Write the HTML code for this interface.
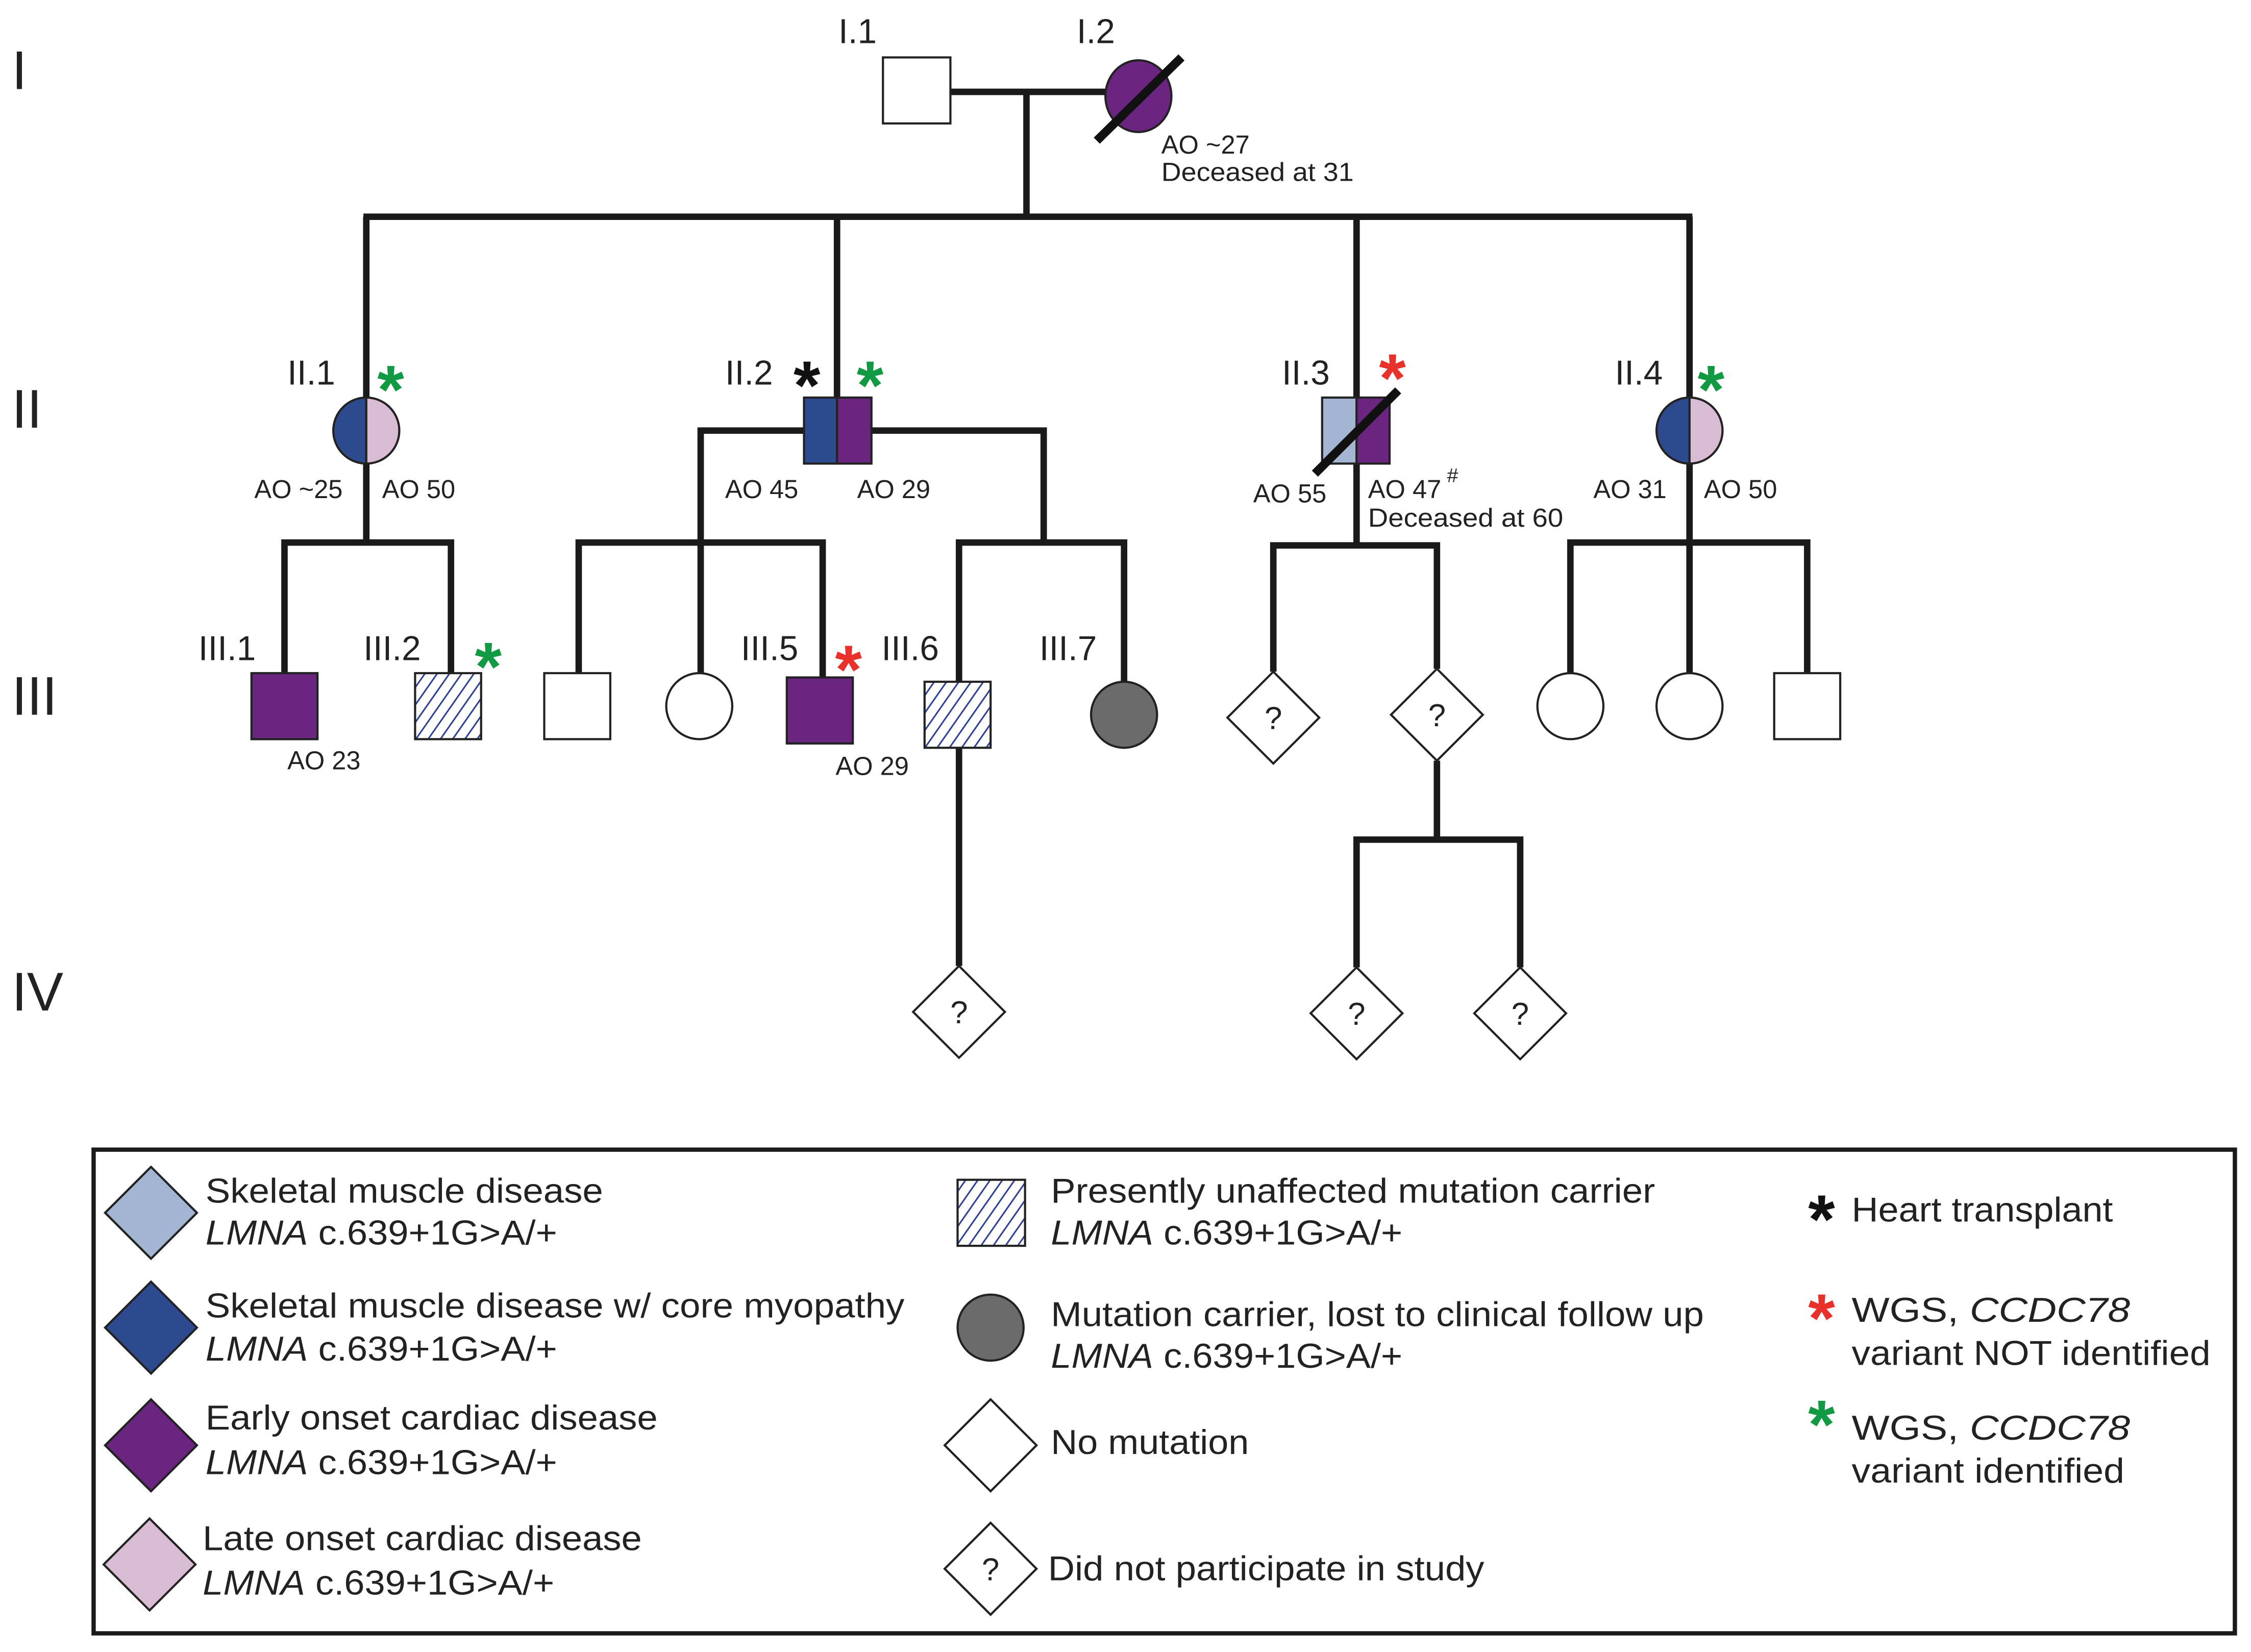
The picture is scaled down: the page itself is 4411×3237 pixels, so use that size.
<!DOCTYPE html>
<html><head><meta charset="utf-8"><style>html,body{margin:0;padding:0;background:#fff}svg{display:block}</style></head>
<body>
<svg xmlns="http://www.w3.org/2000/svg" width="4411" height="3237" viewBox="0 0 1568 1151" font-family="Liberation Sans, sans-serif">
<defs>
<pattern id="h" patternUnits="userSpaceOnUse" width="7" height="7" patternTransform="rotate(35)">
<rect width="7" height="7" fill="#fff"/><line x1="0" y1="0" x2="0" y2="7" stroke="#2e3f94" stroke-width="2.2"/>
</pattern>
</defs>
<rect width="1568" height="1151" fill="#fff"/>
<g fill="#222" font-size="38">
<text x="8" y="62">I</text><text x="8" y="298">II</text><text x="8" y="498">III</text><text x="8" y="704">IV</text>
</g>
<g stroke="#1a1a1a" stroke-width="4.5" fill="none">
<line x1="662" y1="64" x2="770" y2="64"/>
<line x1="715" y1="64" x2="715" y2="151"/>
<line x1="253" y1="151" x2="1179" y2="151"/>
<line x1="255" y1="151" x2="255" y2="278"/>
<line x1="583" y1="151" x2="583" y2="278"/>
<line x1="945" y1="151" x2="945" y2="278"/>
<line x1="1177" y1="151" x2="1177" y2="278"/>
<line x1="255" y1="322" x2="255" y2="378"/>
<polyline points="198,469 198,378 314,378 314,469"/>
<polyline points="560,300 488,300 488,469"/>
<polyline points="403,469 403,378 573,378 573,472"/>
<polyline points="607,300 727,300 727,378"/>
<polyline points="668,475 668,378 783,378 783,476"/>
<line x1="668" y1="521" x2="668" y2="673"/>
<line x1="945" y1="323" x2="945" y2="380"/>
<polyline points="887,468 887,380 1001,380 1001,466"/>
<line x1="1001" y1="530" x2="1001" y2="585"/>
<polyline points="945,674 945,585 1059,585 1059,674"/>
<line x1="1177" y1="322" x2="1177" y2="470"/>
<polyline points="1094,470 1094,378 1259,378 1259,469"/>
</g>
<g stroke="#222" stroke-width="1.5">
<rect x="615" y="40" width="47" height="46" fill="#fff"/>
<ellipse cx="793" cy="67" rx="23" ry="25" fill="#6a2580"/>
<path d="M255,277 A23,23 0 0 0 255,323 Z" fill="#2e4a8f"/>
<path d="M255,277 A23,23 0 0 1 255,323 Z" fill="#d9bcd3"/>
<rect x="560" y="277" width="23" height="46" fill="#2e4a8f"/>
<rect x="583" y="277" width="24" height="46" fill="#6a2580"/>
<rect x="921" y="277" width="24" height="46" fill="#a3b5d3"/>
<rect x="945" y="277" width="23" height="46" fill="#6a2580"/>
<path d="M1177,277 A23,23 0 0 0 1177,323 Z" fill="#2e4a8f"/>
<path d="M1177,277 A23,23 0 0 1 1177,323 Z" fill="#d9bcd3"/>
<rect x="175" y="469" width="46" height="46" fill="#6a2580"/>
<rect x="289" y="469" width="46" height="46" fill="url(#h)"/>
<rect x="379" y="469" width="46" height="46" fill="#fff"/>
<circle cx="487" cy="492" r="23" fill="#fff"/>
<rect x="548" y="472" width="46" height="46" fill="#6a2580"/>
<rect x="644" y="475" width="46" height="46" fill="url(#h)"/>
<circle cx="783" cy="498" r="23" fill="#6b6b6b"/>
<path d="M887,468 L919,500 L887,532 L855,500 Z" fill="#fff"/>
<path d="M1001,466 L1033,498 L1001,530 L969,498 Z" fill="#fff"/>
<circle cx="1094" cy="492" r="23" fill="#fff"/>
<circle cx="1177" cy="492" r="23" fill="#fff"/>
<rect x="1236" y="469" width="46" height="46" fill="#fff"/>
<path d="M668,673 L700,705 L668,737 L636,705 Z" fill="#fff"/>
<path d="M945,674 L977,706 L945,738 L913,706 Z" fill="#fff"/>
<path d="M1059,674 L1091,706 L1059,738 L1027,706 Z" fill="#fff"/>
</g>
<g stroke="#111" stroke-width="6">
<line x1="764" y1="98" x2="823" y2="40"/>
<line x1="916" y1="330" x2="974" y2="272"/>
</g>
<g fill="#222" font-size="22" text-anchor="middle">
<text x="887" y="508">?</text><text x="1001" y="506">?</text>
<text x="668" y="713">?</text><text x="945" y="714">?</text><text x="1059" y="714">?</text>
</g>
<g fill="#222" font-size="24">
<text x="584" y="30">I.1</text><text x="750" y="30">I.2</text>
<text x="200" y="268">II.1</text><text x="505" y="268">II.2</text><text x="893" y="268">II.3</text><text x="1125" y="268">II.4</text>
<text x="138" y="460">III.1</text><text x="253" y="460">III.2</text><text x="516" y="460">III.5</text><text x="614" y="460">III.6</text><text x="724" y="460">III.7</text>
</g>
<g fill="#222" font-size="18">
<text x="809" y="107">AO ~27</text><text x="809" y="126" textLength="134" lengthAdjust="spacingAndGlyphs">Deceased at 31</text>
<text x="177" y="347">AO ~25</text><text x="266" y="347">AO 50</text>
<text x="505" y="347">AO 45</text><text x="597" y="347">AO 29</text>
<text x="873" y="350">AO 55</text><text x="953" y="347">AO 47</text><text x="1008" y="336" font-size="14">#</text><text x="953" y="367" textLength="136" lengthAdjust="spacingAndGlyphs">Deceased at 60</text>
<text x="1110" y="347">AO 31</text><text x="1187" y="347">AO 50</text>
<text x="200" y="536">AO 23</text><text x="582" y="540">AO 29</text>
</g>
<g font-size="48" font-weight="bold" text-anchor="middle">
<text x="272" y="288" fill="#119944">*</text>
<text x="562" y="285" fill="#111">*</text>
<text x="606" y="285" fill="#119944">*</text>
<text x="970" y="280" fill="#e8312a">*</text>
<text x="1192" y="288" fill="#119944">*</text>
<text x="340" y="481" fill="#119944">*</text>
<text x="591" y="483" fill="#e8312a">*</text>
</g>
<rect x="65" y="801" width="1492" height="337" fill="none" stroke="#1a1a1a" stroke-width="3"/>
<g stroke="#222" stroke-width="1.5">
<path d="M105,813 L137,845 L105,877 L73,845 Z" fill="#a3b5d3"/>
<path d="M105,893 L137,925 L105,957 L73,925 Z" fill="#2e4a8f"/>
<path d="M105,975 L137,1007 L105,1039 L73,1007 Z" fill="#6a2580"/>
<path d="M104,1058 L136,1090 L104,1122 L72,1090 Z" fill="#d9bcd3"/>
<rect x="667" y="822" width="47" height="46" fill="url(#h)"/>
<circle cx="690" cy="925" r="23" fill="#6b6b6b"/>
<path d="M690,975 L722,1007 L690,1039 L658,1007 Z" fill="#fff"/>
<path d="M690,1061 L722,1093 L690,1125 L658,1093 Z" fill="#fff"/>
</g>
<text x="690" y="1101" font-size="22" text-anchor="middle" fill="#222">?</text>
<g fill="#222" font-size="24" lengthAdjust="spacingAndGlyphs">
<text x="143" y="838" textLength="277" lengthAdjust="spacingAndGlyphs">Skeletal muscle disease</text>
<text x="143" y="867" textLength="245" lengthAdjust="spacingAndGlyphs"><tspan font-style="italic">LMNA</tspan> c.639+1G&gt;A/+</text>
<text x="143" y="918" textLength="487" lengthAdjust="spacingAndGlyphs">Skeletal muscle disease w/ core myopathy</text>
<text x="143" y="948" textLength="245" lengthAdjust="spacingAndGlyphs"><tspan font-style="italic">LMNA</tspan> c.639+1G&gt;A/+</text>
<text x="143" y="996" textLength="315" lengthAdjust="spacingAndGlyphs">Early onset cardiac disease</text>
<text x="143" y="1027" textLength="245" lengthAdjust="spacingAndGlyphs"><tspan font-style="italic">LMNA</tspan> c.639+1G&gt;A/+</text>
<text x="141" y="1080" textLength="306" lengthAdjust="spacingAndGlyphs">Late onset cardiac disease</text>
<text x="141" y="1111" textLength="245" lengthAdjust="spacingAndGlyphs"><tspan font-style="italic">LMNA</tspan> c.639+1G&gt;A/+</text>
<text x="732" y="838" textLength="421" lengthAdjust="spacingAndGlyphs">Presently unaffected mutation carrier</text>
<text x="732" y="867" textLength="245" lengthAdjust="spacingAndGlyphs"><tspan font-style="italic">LMNA</tspan> c.639+1G&gt;A/+</text>
<text x="732" y="924" textLength="455" lengthAdjust="spacingAndGlyphs">Mutation carrier, lost to clinical follow up</text>
<text x="732" y="953" textLength="245" lengthAdjust="spacingAndGlyphs"><tspan font-style="italic">LMNA</tspan> c.639+1G&gt;A/+</text>
<text x="732" y="1013" textLength="138" lengthAdjust="spacingAndGlyphs">No mutation</text>
<text x="730" y="1101" textLength="304" lengthAdjust="spacingAndGlyphs">Did not participate in study</text>
<text x="1290" y="851" textLength="182" lengthAdjust="spacingAndGlyphs">Heart transplant</text>
<text x="1290" y="921" textLength="194" lengthAdjust="spacingAndGlyphs">WGS, <tspan font-style="italic">CCDC78</tspan></text>
<text x="1290" y="951" textLength="250" lengthAdjust="spacingAndGlyphs">variant NOT identified</text>
<text x="1290" y="1003" textLength="194" lengthAdjust="spacingAndGlyphs">WGS, <tspan font-style="italic">CCDC78</tspan></text>
<text x="1290" y="1033" textLength="190" lengthAdjust="spacingAndGlyphs">variant identified</text>
</g>
<g font-size="48" font-weight="bold" text-anchor="middle">
<text x="1269" y="866" fill="#111">*</text>
<text x="1269" y="935" fill="#e8312a">*</text>
<text x="1269" y="1009" fill="#119944">*</text>
</g>
</svg>
</body></html>
